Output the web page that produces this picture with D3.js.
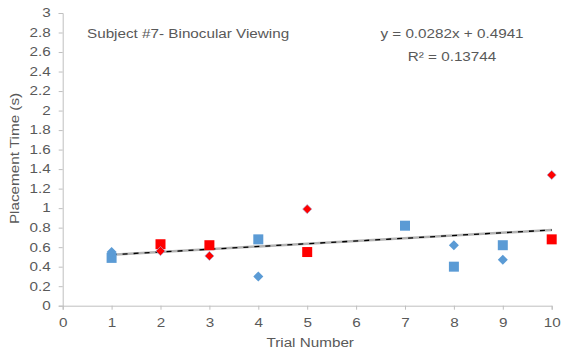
<!DOCTYPE html>
<html>
<head>
<meta charset="utf-8">
<script src="https://cdn.jsdelivr.net/npm/d3@7"></script>
<style>
  html, body { margin: 0; padding: 0; background: #fff; }
  svg { display: block; }
  text { font-family: "Liberation Sans", Arial, sans-serif; fill: #595959; }
</style>
</head>
<body>
<svg id="chart" width="563" height="360"></svg>
<script>
// ---- Data ----
const blueSquareTrials = [1, 4, 7, 8, 9];
const blueSquareTimes  = [0.49, 0.68, 0.82, 0.40, 0.62];
const blueDiamondTrials = [1, 4, 8, 9];
const blueDiamondTimes  = [0.55, 0.30, 0.62, 0.47];
const redSquareTrials = [2, 3, 5, 10];
const redSquareTimes  = [0.63, 0.62, 0.55, 0.68];
const redDiamondTrials = [2, 3, 5, 10];
const redDiamondTimes  = [0.56, 0.51, 0.99, 1.34];
const xTicks = [0, 1, 2, 3, 4, 5, 6, 7, 8, 9, 10];
const yTicks = [0, 0.2, 0.4, 0.6, 0.8, 1, 1.2, 1.4, 1.6, 1.8, 2, 2.2, 2.4, 2.6, 2.8, 3];
const trendSlope = 0.0282;
const trendIntercept = 0.4941;
const trendRange = [1, 10];
const chartTitle = "Subject #7- Binocular Viewing";
const equationText = "y = 0.0282x + 0.4941";
const r2Text = "R² = 0.13744";
const xTitle = "Trial Number";
const yTitle = "Placement Time (s)";

// ---- Layout ----
const svg = d3.select("#chart");
const x = d3.scaleLinear().domain([0, 10]).range([62.7, 551.7]);
const y = d3.scaleLinear().domain([0, 3]).range([305.7, 13]);
const axisColor = "#bfbfbf";
const STRETCH = 1.27;

function stretch(sel, f) {
  sel.each(function() {
    const len = this.getComputedTextLength();
    d3.select(this).attr("textLength", len * f).attr("lengthAdjust", "spacingAndGlyphs");
  });
}

// Axes
const gx = svg.append("g").attr("transform", `translate(0,${y(0)})`)
  .call(d3.axisBottom(x).tickValues(xTicks).tickSize(4).tickPadding(9).tickFormat(d3.format("d")));
const gy = svg.append("g").attr("transform", `translate(${x(0)},0)`)
  .call(d3.axisLeft(y).tickValues(yTicks).tickSize(4).tickPadding(8).tickFormat(d => d3.format("")(+d.toFixed(1))));
[gx, gy].forEach(g => {
  g.select(".domain").attr("stroke", axisColor).attr("stroke-width", 1);
  g.selectAll(".tick line").attr("stroke", axisColor);
  g.selectAll(".tick text").attr("fill", "#595959").style("font-size", "12px")
    .style("font-family", '"Liberation Sans", Arial, sans-serif');
});
stretch(gx.selectAll(".tick text"), STRETCH);
stretch(gy.selectAll(".tick text"), STRETCH);

// Axis titles
const xt = svg.append("text").attr("x", x(5) + 3).attr("y", 346.5).attr("text-anchor", "middle")
  .style("font-size", "12px").text(xTitle);
stretch(xt, STRETCH);
const yt = svg.append("text").attr("transform", `translate(19,158.5) rotate(-90)`).attr("text-anchor", "middle")
  .style("font-size", "12px").text(yTitle);
stretch(yt, STRETCH);

// Trendline
const trendData = trendRange.map(t => [t, trendSlope * t + trendIntercept]);
const line = d3.line().x(d => x(d[0])).y(d => y(d[1]));
svg.append("path").datum(trendData).attr("d", line).attr("fill", "none")
  .attr("stroke", "#b3b3b3").attr("stroke-width", 2.5);
svg.append("path").datum(trendData).attr("d", line).attr("fill", "none")
  .attr("stroke", "#000").attr("stroke-width", 1.3).attr("stroke-dasharray", "5,6");

// Markers
const sq = d3.symbol().type(d3.symbolSquare).size(100);
function drawMarkers(trials, times, sym, color, stroke, rot) {
  svg.append("g").selectAll("path").data(trials.map((t, i) => [t, times[i]])).join("path")
    .attr("d", sym).attr("transform", d => `translate(${x(d[0])},${y(d[1])}) rotate(${rot || 0})`)
    .attr("fill", color).attr("stroke", stroke || "none").attr("stroke-width", 0.6);
}
drawMarkers(blueSquareTrials, blueSquareTimes, sq, "#5b9bd5");
drawMarkers(blueDiamondTrials, blueDiamondTimes, d3.symbol().type(d3.symbolSquare).size(50), "#5b9bd5", null, 45);
drawMarkers(redSquareTrials, redSquareTimes, sq, "#ff0000");
drawMarkers(redDiamondTrials, redDiamondTimes, d3.symbol().type(d3.symbolSquare).size(42), "#ff0000", "#9db4de", 45);

// Annotations
const tt = svg.append("text").attr("x", 87).attr("y", 37.5).style("font-size", "12px").text(chartTitle);
stretch(tt, STRETCH);
const eq = svg.append("text").attr("x", 452).attr("y", 37.7).attr("text-anchor", "middle").style("font-size", "12px").text(equationText);
stretch(eq, STRETCH);
const r2 = svg.append("text").attr("x", 452).attr("y", 60.5).attr("text-anchor", "middle").style("font-size", "12px").text(r2Text);
stretch(r2, STRETCH);
</script>
</body>
</html>
